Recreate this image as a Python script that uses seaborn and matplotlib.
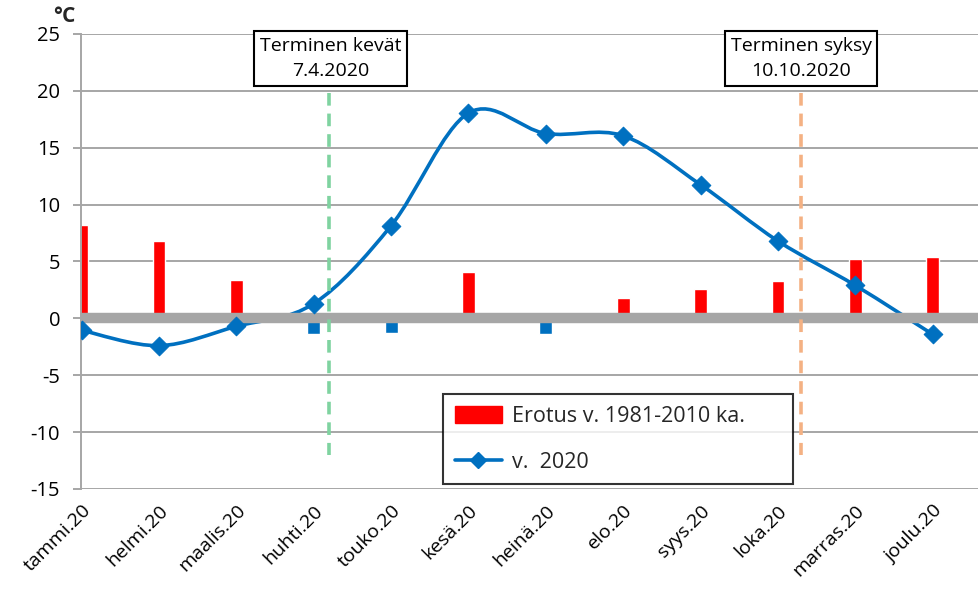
import numpy as np
import pandas as pd
import matplotlib
matplotlib.use("Agg")
import matplotlib.pyplot as plt
from matplotlib.path import Path
from matplotlib.patches import PathPatch, Patch
from matplotlib.lines import Line2D
import seaborn as sns

months = ["tammi.20", "helmi.20", "maalis.20", "huhti.20", "touko.20", "kesä.20",
          "heinä.20", "elo.20", "syys.20", "loka.20", "marras.20", "joulu.20"]
diff_values = [8.2, 6.8, 3.4, -1.35, -1.3, 4.05, -1.35, 1.75, 2.6, 3.25, 5.25, 5.4]
temp_2020 = [-1.05, -2.4, -0.7, 1.3, 8.15, 18.05, 16.25, 16.05, 11.75, 6.8, 2.9, -1.4]
y_ticks = [-15, -10, -5, 0, 5, 10, 15, 20, 25]
spring_pos = 3.2
autumn_pos = 9.3
spring_label = "Terminen kevät\n7.4.2020"
autumn_label = "Terminen syksy\n10.10.2020"
legend_labels = ["Erotus v. 1981-2010 ka.", "v.  2020"]

sns.set_theme(style="white")
plt.rcParams['font.family'] = ['Open Sans', 'DejaVu Sans']

RED = "#ff0000"
BLUE = "#0070c0"
GRAY = "#a6a6a6"

fig = plt.figure(figsize=(9.79, 5.92), dpi=100)
ax = fig.add_axes([0.0827, 0.174, 0.9173, 0.7686])

df = pd.DataFrame({"month": months, "diff": diff_values})
colors = [RED if v >= 0 else BLUE for v in diff_values]
sns.barplot(data=df, x="month", y="diff", hue="month", palette=colors,
            legend=False, width=0.165, ax=ax, zorder=2, saturation=1)

# smoothed line (Excel-like bezier) through the data points
x = np.arange(len(temp_2020), dtype=float)
y = np.asarray(temp_2020, dtype=float)
verts = [(x[0], y[0])]
codes = [Path.MOVETO]
n = len(x)
for i in range(n - 1):
    p0 = np.array([x[max(i - 1, 0)], y[max(i - 1, 0)]])
    p1 = np.array([x[i], y[i]])
    p2 = np.array([x[i + 1], y[i + 1]])
    p3 = np.array([x[min(i + 2, n - 1)], y[min(i + 2, n - 1)]])
    c1 = p1 + (p2 - p0) / 6.0
    c2 = p2 - (p3 - p1) / 6.0
    verts += [tuple(c1), tuple(c2), tuple(p2)]
    codes += [Path.CURVE4] * 3
ax.add_patch(PathPatch(Path(verts, codes), fill=False, edgecolor=BLUE, lw=2.6,
                       transform=ax.transData, zorder=3, capstyle='round'))
sns.scatterplot(x=x, y=y, marker="D", s=90, color=BLUE, edgecolor=BLUE,
                ax=ax, zorder=5, legend=False)

# zero line
ax.axhline(0, color=GRAY, lw=7.5, zorder=4)

# gridlines
for t in y_ticks:
    if t != 0:
        ax.axhline(t, color=GRAY, lw=1.4, zorder=0)

# thermal season markers
ax.plot([spring_pos, spring_pos], [19.8, -12], color="#7fd3a0", lw=2.6,
        ls=(0, (3.5, 2.2)), zorder=4.5)
ax.plot([autumn_pos, autumn_pos], [19.8, -12], color="#f4b183", lw=2.6,
        ls=(0, (3.5, 2.2)), zorder=4.5)
box = dict(boxstyle="square,pad=0.3", fc="white", ec="black", lw=1.5)
ax.text(spring_pos + 0.02, 22.85, spring_label, ha="center", va="center",
        fontsize=14, linespacing=1.55, bbox=box, zorder=6, color="black")
ax.text(autumn_pos, 22.85, autumn_label, ha="center", va="center",
        fontsize=14, linespacing=1.55, bbox=box, zorder=6, color="black")

ax.set_xlim(-0.01, 11.6)
ax.set_ylim(-15, 25)
ax.set_yticks(y_ticks)
ax.set_yticklabels([str(t) for t in y_ticks], fontsize=14.5, color="black")
ax.set_xticks(range(len(months)))
ax.set_xticklabels(months, rotation=45, ha="right", rotation_mode="anchor",
                   fontsize=14, color="black")
ax.tick_params(axis='x', pad=9, length=0)
ax.tick_params(axis='y', pad=9, length=6, width=1.4, color=GRAY, left=True)
ax.set_xlabel("")
ax.set_ylabel("")
for s in ["top", "right", "bottom"]:
    ax.spines[s].set_visible(False)
ax.spines["left"].set_color(GRAY)
ax.spines["left"].set_linewidth(1.4)

fig.text(0.054, 0.99, "°C", fontsize=15, fontweight="bold", ha="left", va="top")

handles = [Patch(facecolor=RED, edgecolor=RED),
           Line2D([0], [0], color=BLUE, lw=2.6, marker="D", markersize=8)]
leg = ax.legend(handles, legend_labels, loc="upper left",
                bbox_to_anchor=(0.403, 0.0, 0.39, 0.209), mode="expand",
                frameon=True, fancybox=False,
                fontsize=15.5, borderpad=0.55, labelspacing=1.15,
                handlelength=2.2, handleheight=0.85, handletextpad=0.45,
                borderaxespad=0)
leg.get_frame().set_edgecolor("black")
leg.get_frame().set_linewidth(1.5)
leg.set_zorder(7)

fig.savefig("out.png", dpi=100)
